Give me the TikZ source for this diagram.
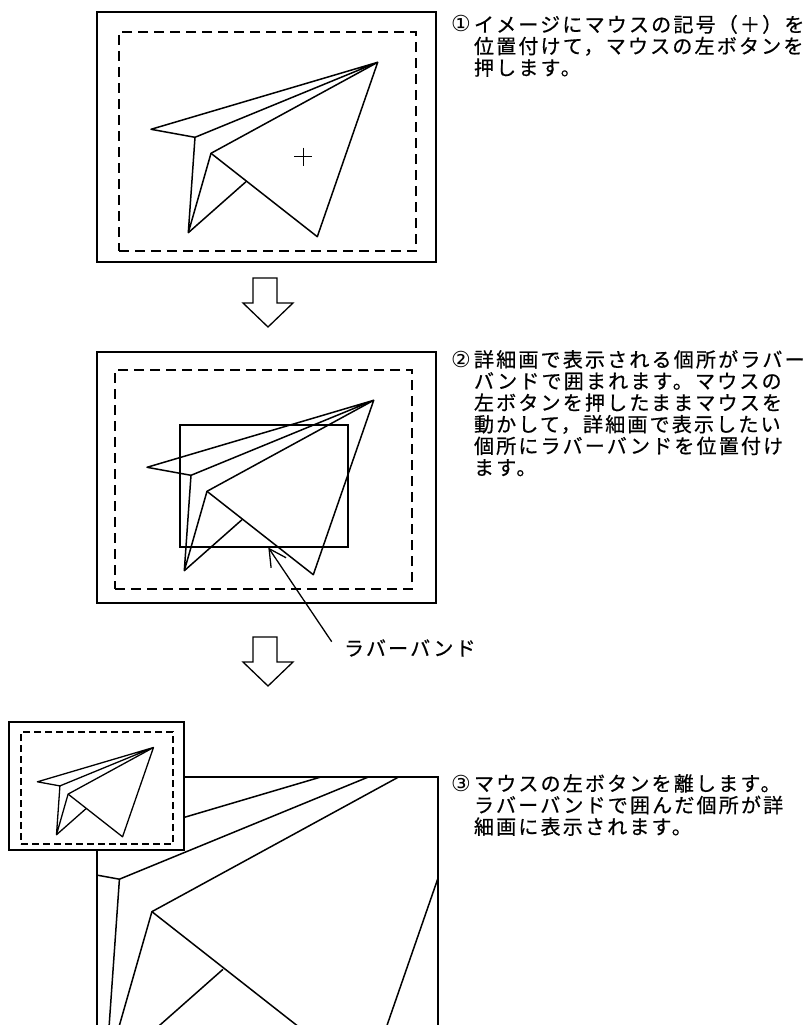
\documentclass[tikz,border=0pt]{standalone}
\usepackage{fontspec}
\newfontfamily\jpfont{Noto Sans CJK JP}[LetterSpace=11, FakeBold=0.6]
\newfontfamily\markfont{DejaVu Sans}
\usetikzlibrary{arrows.meta}

% paper plane drawn in the coordinates of the first window
\newcommand\paperplane{%
  \coordinate (T) at (377.7,62.3);
  \coordinate (L) at (151,129.3);
  \coordinate (F) at (195,137.3);
  \coordinate (I) at (211,153.3);
  \coordinate (B) at (188.3,232.7);
  \coordinate (R) at (317.3,236.7);
  \coordinate (M) at (246,181.7);
  \draw[planeline] (T) -- (L) -- (F) -- cycle;
  \draw[planeline] (F) -- (B) -- (I) -- (T);
  \draw[planeline] (I) -- (R) -- (T);
  \draw[planeline] (B) -- (M);
}
% step number set in a box of fixed width
\newcommand\stepno[1]{\makebox[23pt][l]{\markfont\fontsize{22}{22}\selectfont #1}}

\tikzset{
  frame/.style={draw, line width=1.8pt, inner sep=0pt, outer sep=0pt, anchor=north west},
  dashbox/.style={draw, line width=1.6pt, dash pattern=on 10pt off 6pt, inner sep=0pt, outer sep=0pt, anchor=north west},
  smalldash/.style={draw, line width=1.5pt, dash pattern=on 7pt off 4pt, inner sep=0pt, outer sep=0pt, anchor=north west},
  planeline/.style={line width=1.5pt, line join=round},
  band/.style={draw, line width=1.3pt, inner sep=0pt, outer sep=0pt, anchor=north west},
  blockarrow/.style={draw, line width=1.3pt, fill=white, line join=miter},
  note/.style={font=\jpfont\fontsize{20}{21.6}\selectfont, inner sep=0pt, outer sep=0pt, anchor=base west},
}

\begin{document}
\begin{tikzpicture}[x=1pt, y=-1pt]
\useasboundingbox (0,0) rectangle (809,1025);

% ---- step 1: window with the plane and the mouse cursor
\node[frame, minimum width=339pt, minimum height=250pt] (win1) at (97,12) {};
\node[dashbox, minimum width=297pt, minimum height=219pt] (area1) at (119,32) {};
\paperplane
\draw[line width=0.8pt] (294.3,156.7) -- (312.3,156.7) (303.3,147.7) -- (303.3,165.7);

\node[note] (step1) at (451,32) {\stepno{①}\vtop{\hbox{イメージにマウスの記号（＋）を}\hbox{位置付けて，マウスの左ボタンを}\hbox{押します。}}};

% arrow down
\draw[blockarrow] (253,278) -- (277,278) -- (277,303) -- (293,303) -- (268,327) -- (243,303) -- (253,303) -- cycle;

% ---- step 2: rubber band around the detail area
\node[frame, minimum width=339pt, minimum height=251pt] (win2) at (97,352) {};
\node[dashbox, minimum width=297pt, minimum height=219pt] (area2) at (115,370) {};
\begin{scope}[shift={(-4,338)}]
  \paperplane
\end{scope}
\node[band, minimum width=168pt, minimum height=122pt] (band) at (180,425) {};

\node[note] (step2) at (451,367) {\stepno{②}\vtop{\hbox{詳細画で表示される個所がラバー}\hbox{バンドで囲まれます。マウスの}\hbox{左ボタンを押したままマウスを}\hbox{動かして，詳細画で表示したい}\hbox{個所にラバーバンドを位置付け}\hbox{ます。}}};

\node[note, anchor=west] (bandlabel) at (344,648) {ラバーバンド};
\coordinate (bandtail) at (331.7,641.7);
\coordinate (bandtip) at (268.3,547.5);
\draw[line width=1.3pt, -{Straight Barb[length=17pt, width=18pt, line width=1.3pt]}] (bandtail) -- (bandtip);

% arrow down
\draw[blockarrow] (253,637) -- (277,637) -- (277,662) -- (293,662) -- (268,686) -- (243,662) -- (253,662) -- cycle;

% ---- step 3: enlarged detail view
\begin{scope}
  \clip (97,777) rectangle (438,1030);
  \begin{scope}[shift={(-276.5,600.4)}, scale=2.03]
    \paperplane
  \end{scope}
\end{scope}
\draw[line width=1.8pt] (97,1030) -- (97,777) -- (438,777) -- (438,1030);

% overview window in the corner
\node[frame, fill=white, minimum width=175pt, minimum height=128pt] (overview) at (9,722) {};
\node[smalldash, minimum width=152pt, minimum height=112pt] (overarea) at (21,732) {};
\begin{scope}[shift={(-39.93,715.6)}, scale=0.512, planeline/.append style={line width=1.3pt}]
  \paperplane
\end{scope}

\node[note] (step3) at (451,791) {\stepno{③}\vtop{\hbox{マウスの左ボタンを離します。}\hbox{ラバーバンドで囲んだ個所が詳}\hbox{細画に表示されます。}}};

\end{tikzpicture}
\end{document}
